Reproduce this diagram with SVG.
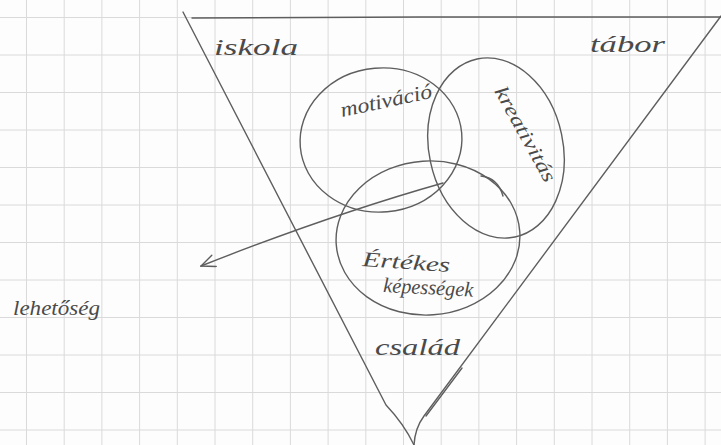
<svg xmlns="http://www.w3.org/2000/svg" width="721" height="445" viewBox="0 0 721 445">
<style>
.grid{stroke:#dadada;stroke-width:1;fill:none}
.pen{stroke:#5e5e5e;stroke-width:1.4;fill:none;stroke-linecap:round;stroke-linejoin:round}
.hw{font-family:"Liberation Serif","DejaVu Serif",serif;font-style:italic;fill:#4a4a4a}
</style>
<defs>
<marker id="open" markerWidth="16" markerHeight="14" refX="15" refY="7" orient="auto" markerUnits="userSpaceOnUse">
<path d="M1,1 L15,7 L1,13" stroke="#5e5e5e" stroke-width="1.4" fill="none" stroke-linecap="round"/>
</marker>
</defs>
<rect width="721" height="445" fill="#fdfdfd"/>
<path class="grid" d="M26.5,0V445M64.2,0V445M101.9,0V445M139.6,0V445M177.3,0V445M215,0V445M252.7,0V445M290.4,0V445M328.1,0V445M365.8,0V445M403.5,0V445M441.2,0V445M478.9,0V445M516.6,0V445M554.3,0V445M592,0V445M629.7,0V445M667.4,0V445M705.1,0V445M0,17.5H721M0,55H721M0,92.5H721M0,130H721M0,167.5H721M0,205H721M0,242.5H721M0,280H721M0,317.5H721M0,355H721M0,392.5H721M0,430H721"/>
<g id="triangle">
<path class="pen" d="M183,12 L386,405 Q404,424 414,445"/>
<path class="pen" d="M192,18 L420,17 L721,17"/>
<path class="pen" d="M721,16 L424,416 Q415,428 414,445"/>
<path class="pen" d="M462,368 L426,416" stroke="#8a8a8a" stroke-width="0.8"/>
</g>
<g id="motivacio">
<ellipse class="pen" cx="381" cy="140" rx="81" ry="72" transform="rotate(-5 381 140)"/>
<text class="hw" x="342" y="117" font-size="21" textLength="93" lengthAdjust="spacingAndGlyphs" transform="rotate(-12 342 117)">motiváció</text>
</g>
<g id="kreativitas">
<ellipse class="pen" cx="496" cy="148" rx="67" ry="91" transform="rotate(-12 496 148)"/>
<path class="pen" d="M481,176 Q498,178 503,196"/>
<text class="hw" x="494" y="91" font-size="20" textLength="106" lengthAdjust="spacingAndGlyphs" transform="rotate(61 494 91)">kreativitás</text>
</g>
<g id="ertekes">
<ellipse class="pen" cx="428" cy="238" rx="92" ry="77" transform="rotate(-4 428 238)"/>
<text class="hw" x="362" y="266" font-size="21" textLength="88" lengthAdjust="spacingAndGlyphs" transform="rotate(4 362 266)">Értékes</text>
<text class="hw" x="383" y="292" font-size="21" textLength="90" lengthAdjust="spacingAndGlyphs" transform="rotate(3 383 292)">képességek</text>
</g>
<g id="iskola"><text class="hw" x="214" y="55" font-size="24" textLength="84" lengthAdjust="spacingAndGlyphs">iskola</text></g>
<g id="tabor"><text class="hw" x="590" y="52" font-size="24" textLength="75" lengthAdjust="spacingAndGlyphs">tábor</text></g>
<g id="lehetoseg"><text class="hw" x="13" y="315" font-size="22" textLength="87" lengthAdjust="spacingAndGlyphs">lehetőség</text></g>
<g id="csalad"><text class="hw" x="375" y="355" font-size="24" textLength="85" lengthAdjust="spacingAndGlyphs">család</text></g>
<g id="connectors">
<path class="pen" d="M443,183 Q330,215 201,266" marker-end="url(#open)"/>
</g>
</svg>
